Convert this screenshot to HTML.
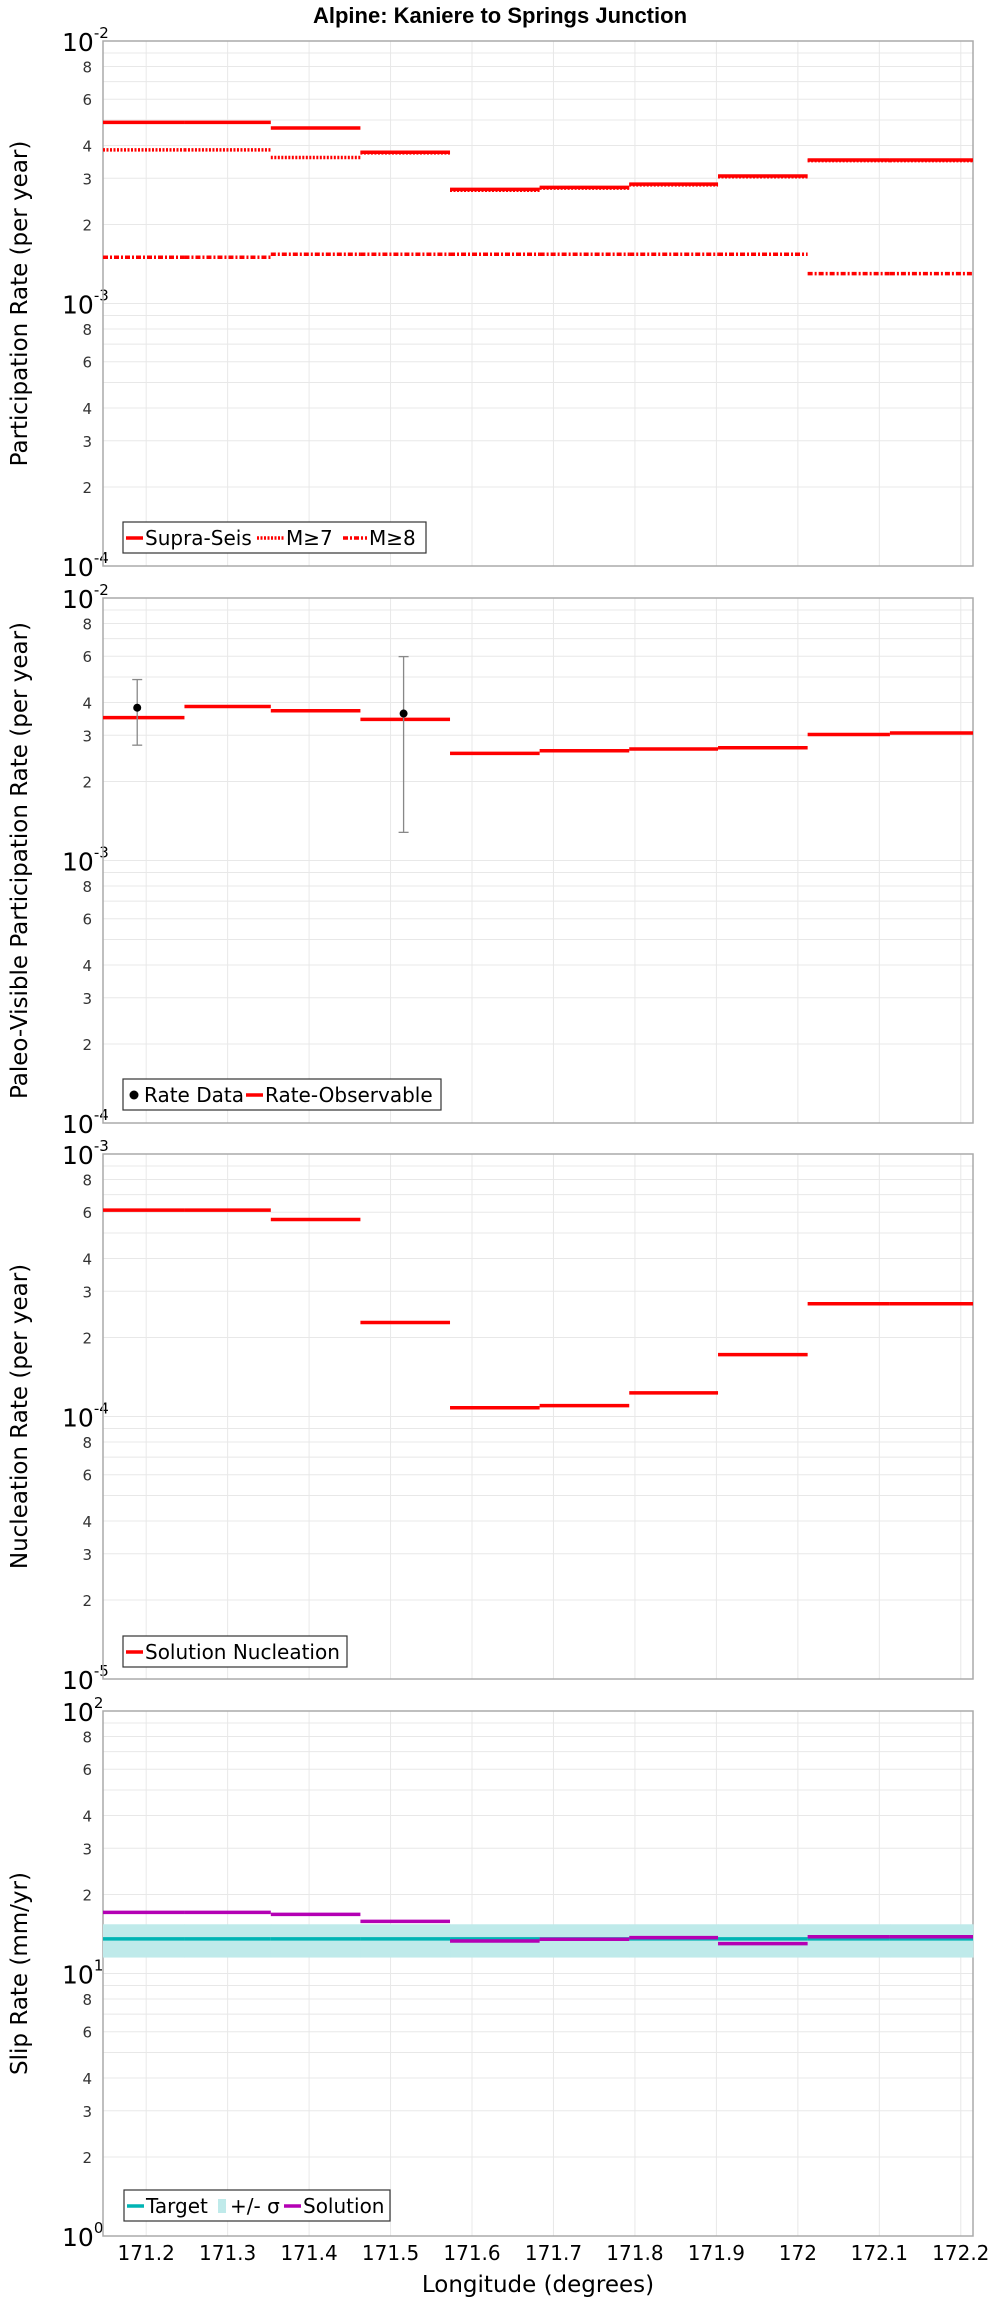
<!DOCTYPE html>
<html><head><meta charset="utf-8"><style>
html,body{margin:0;padding:0;background:#fff;}
svg{display:block;font-family:"DejaVu Sans","Liberation Sans",sans-serif;}
</style></head><body>
<svg id="chart" width="1000" height="2300" viewBox="0 0 1000 2300" xmlns="http://www.w3.org/2000/svg">
<text x="500" y="23" text-anchor="middle" font-family="Liberation Sans, sans-serif" font-weight="bold" font-size="22">Alpine: Kaniere to Springs Junction</text>
<g id="panels"></g>
</svg>
<script>
const sectionEdges = [171.147,171.247,171.353,171.463,171.573,171.683,171.793,171.902,172.012,172.113,172.215];
const xTicks = [171.2,171.3,171.4,171.5,171.6,171.7,171.8,171.9,172,172.1,172.2];
const xTickLabels = ["171.2","171.3","171.4","171.5","171.6","171.7","171.8","171.9","172","172.1","172.2"];
const supraSeis = [4.9e-3,4.9e-3,4.66e-3,3.77e-3,2.72e-3,2.77e-3,2.85e-3,3.06e-3,3.52e-3,3.52e-3];
const m7 = [3.85e-3,3.85e-3,3.6e-3,3.75e-3,2.7e-3,2.75e-3,2.83e-3,3.04e-3,3.5e-3,3.5e-3];
const m8 = [1.5e-3,1.5e-3,1.54e-3,1.54e-3,1.54e-3,1.54e-3,1.54e-3,1.54e-3,1.3e-3,1.3e-3];
const paleoObs = [3.5e-3,3.86e-3,3.72e-3,3.45e-3,2.56e-3,2.62e-3,2.66e-3,2.69e-3,3.02e-3,3.06e-3];
const rateLon = [171.189,171.516];
const rateVal = [3.82e-3,3.63e-3];
const rateHi = [4.89e-3,5.98e-3];
const rateLo = [2.75e-3,1.28e-3];
const nucleation = [6.11e-4,6.11e-4,5.63e-4,2.28e-4,1.08e-4,1.1e-4,1.23e-4,1.72e-4,2.69e-4,2.69e-4];
const slipSolution = [17.1,17.1,16.8,15.8,13.3,13.5,13.7,13.0,13.8,13.8];
const slipTarget = [13.55,13.55,13.55,13.55,13.55,13.55,13.55,13.55,13.55,13.55];
const slipHi = [15.4,15.4,15.4,15.4,15.4,15.4,15.4,15.4,15.4,15.4];
const slipLo = [11.5,11.5,11.5,11.5,11.5,11.5,11.5,11.5,11.5,11.5];

const NS='http://www.w3.org/2000/svg';
const root=document.getElementById('panels');
const PL=103, PR=973, PH=525;
const xMin=171.147, xMax=172.215;
function xs(v){return PL+(v-xMin)/(xMax-xMin)*(PR-PL);}
function mk(tag,attrs,parent){const e=document.createElementNS(NS,tag);for(const k in attrs)e.setAttribute(k,attrs[k]);(parent||root).appendChild(e);return e;}

function panel(top,minExp,maxExp,label,name){
  const g=mk('g',{});
  
  
  const dec=PH/(maxExp-minExp);
  const ys=v=>top+(maxExp-Math.log10(v))*dec;
  for(let e=minExp;e<maxExp;e++){
    for(let m=1;m<10;m++){
      const y=ys(m*Math.pow(10,e));
      const l=mk('line',{x1:PL,x2:PR,y1:y,y2:y,stroke:'#e8e8e8','stroke-width':1},g);
      
      
      if([2,3,4,6,8].includes(m)){
        const t=mk('text',{x:92,y:y+6,'text-anchor':'end','font-size':15,fill:'#333'},g);
        
        
        t.textContent=String(m);
      }
    }
  }
  for(let e=minExp;e<=maxExp;e++){
    const y=ys(Math.pow(10,e));
    const t=mk('text',{x:62,y:y+10,'text-anchor':'start','font-size':25,fill:'#000'},g);
    
    
    t.textContent='10';
    const s=mk('tspan',{dy:-13,'font-size':15},t);
    s.textContent=String(e);
  }
  xTicks.forEach(v=>{
    const l=mk('line',{x1:xs(v),x2:xs(v),y1:top,y2:top+PH,stroke:'#e8e8e8','stroke-width':1},g);
    
    
  });
  const f=mk('rect',{x:PL,y:top,width:PR-PL,height:PH,fill:'none',stroke:'#aaa','stroke-width':1.5},g);
  
  
  const cy=top+PH/2;
  const yl=mk('text',{x:0,y:0,'text-anchor':'middle','font-size':23,transform:`translate(27,${cy}) rotate(-90)`},g);
  
  
  yl.textContent=label;
  return {g,ys};
}
function steps(p,vals,color,dash,name){
  vals.forEach((v,i)=>{
    const l=mk('line',{x1:xs(sectionEdges[i]),x2:xs(sectionEdges[i+1]),y1:p.ys(v),y2:p.ys(v),stroke:color,'stroke-width':3.5},p.g);
    if(dash)l.setAttribute('stroke-dasharray',dash);
    
    
  });
}
function legend(p,x,y,w,items){
  const r=mk('rect',{x:x,y:y,width:w,height:31,fill:'#fff',stroke:'#333','stroke-width':1.2},p.g);
  
  
  let cx=x+3;
  items.forEach(it=>{
    let sw;
    if(it.type==='dot'){sw=mk('circle',{cx:cx+8,cy:y+16,r:4.5,fill:'#000'},p.g);cx+=18;}
    else if(it.type==='band'){sw=mk('rect',{x:cx+2,y:y+9,width:8,height:14,fill:'#bfeaea'},p.g);cx+=14;}
    else{sw=mk('line',{x1:cx,x2:cx+(it.len||17),y1:y+16,y2:y+16,stroke:it.color,'stroke-width':3.5},p.g);if(it.dash)sw.setAttribute('stroke-dasharray',it.dash);cx+=(it.len||17)+2;}
    
    
    const t=mk('text',{x:cx,y:y+23,'font-size':20,fill:'#000'},p.g);
    
    
    t.textContent=it.label;
    cx+=it.w;
  });
}

const p1=panel(41,-4,-2,'Participation Rate (per year)','participation-panel');
steps(p1,m8,'#ff0000','5,2,2,2','m8-line');
steps(p1,m7,'#ff0000','2,1.5','m7-line');
steps(p1,supraSeis,'#ff0000',null,'supra-seis-line');
legend(p1,123,522,303,[{color:'#f00',label:'Supra-Seis',w:112},{color:'#f00',dash:'2,1.5',label:'M≥7',w:57,len:27},{color:'#f00',dash:'5,2,2,2',label:'M≥8',w:50,len:24}]);

const p2=panel(598,-4,-2,'Paleo-Visible Participation Rate (per year)','paleo-panel');
steps(p2,paleoObs,'#ff0000',null,'rate-observable-line');
rateLon.forEach((lon,i)=>{
  const x=xs(lon);
  const e=mk('line',{x1:x,x2:x,y1:p2.ys(rateHi[i]),y2:p2.ys(rateLo[i]),stroke:'#888','stroke-width':1.3},p2.g);
  
  
  [rateHi[i],rateLo[i]].forEach(v=>{
    const c=mk('line',{x1:x-5,x2:x+5,y1:p2.ys(v),y2:p2.ys(v),stroke:'#888','stroke-width':1.3},p2.g);
    
    
  });
  const d=mk('circle',{cx:x,cy:p2.ys(rateVal[i]),r:4,fill:'#000'},p2.g);
  
  
});
legend(p2,123,1079,318,[{type:'dot',label:'Rate Data',w:102},{color:'#f00',label:'Rate-Observable',w:170}]);

const p3=panel(1154,-5,-3,'Nucleation Rate (per year)','nucleation-panel');
steps(p3,nucleation,'#ff0000',null,'solution-nucleation-line');
legend(p3,123,1636,224,[{color:'#f00',label:'Solution Nucleation',w:200}]);

const p4=panel(1711,0,2,'Slip Rate (mm/yr)','slip-rate-panel');
slipHi.forEach((v,i)=>{
  const r=mk('rect',{x:xs(sectionEdges[i]),y:p4.ys(v),width:xs(sectionEdges[i+1])-xs(sectionEdges[i])+0.5,height:p4.ys(slipLo[i])-p4.ys(v),fill:'#bfeaea'},p4.g);
  
  
});
steps(p4,slipTarget,'#00b4b4',null,'target-line');
steps(p4,slipSolution,'#b400b4',null,'solution-line');
legend(p4,124,2190,266,[{color:'#00b4b4',label:'Target',w:70},{type:'band',label:'+/- σ',w:54},{color:'#b400b4',label:'Solution',w:90}]);

xTicks.forEach((v,i)=>{
  const t=mk('text',{x:xs(v),y:2260,'text-anchor':'middle','font-size':20,fill:'#000'});
  
  
  t.textContent=xTickLabels[i];
});
const xl=mk('text',{x:538,y:2292,'text-anchor':'middle','font-size':23});


xl.textContent='Longitude (degrees)';
</script>
</body></html>
